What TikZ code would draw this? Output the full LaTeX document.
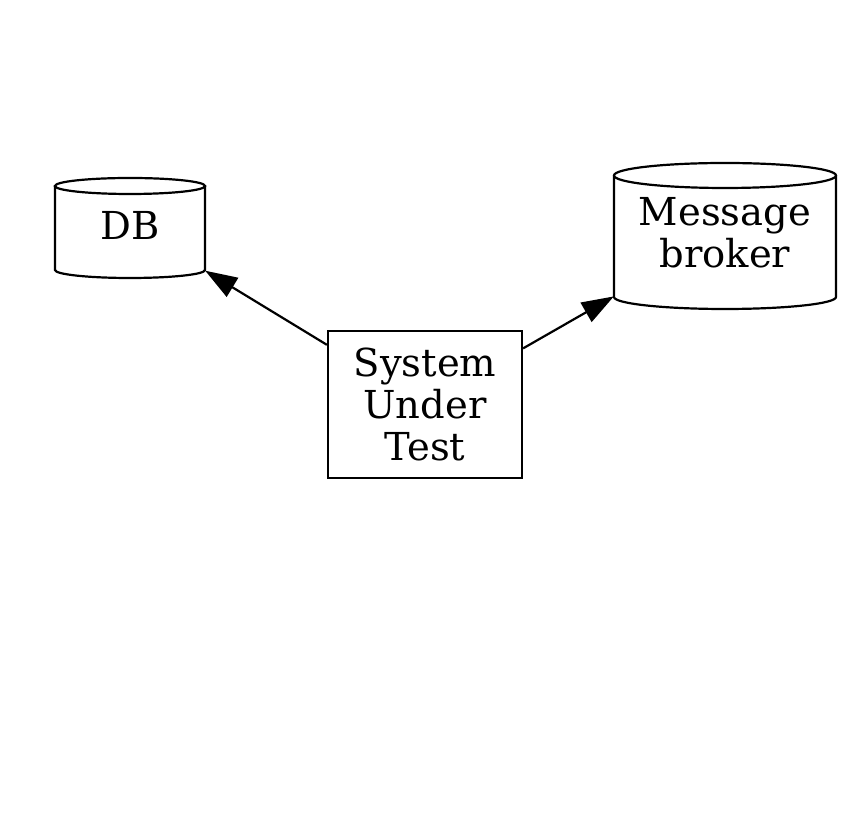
\documentclass[tikz,border=0pt]{standalone}
\usepackage{fontspec}
\setmainfont{DejaVu Serif}
\usetikzlibrary{arrows.meta}

\tikzset{
  label/.style={align=center, inner sep=0pt, font=\fontsize{38.5}{42}\selectfont},
  box/.style={label, draw, line width=2.2pt, minimum width=194pt, minimum height=147pt},
  outline/.style={line width=2.2pt},
  link/.style={line width=2.2pt, -{Triangle[length=32pt,width=22pt]}}
}

\begin{document}
\begin{tikzpicture}[x=1pt,y=1pt]
  \useasboundingbox (0,0) rectangle (848,813);

  % DB cylinder
  \draw[outline] (55,627) -- (55,543) arc[start angle=180, end angle=360, x radius=75, y radius=8] -- (205,627);
  \draw[outline] (130,627) ellipse (75 and 8);
  \node at (130,588) [label,minimum width=150pt,minimum height=106pt] (db) {DB};

  % broker cylinder
  \draw[outline] (614,637.5) -- (614,516) arc[start angle=180, end angle=360, x radius=111, y radius=12] -- (836,637.5);
  \draw[outline] (725,637.5) ellipse (111 and 12.5);
  \node at (725,580) [label,minimum width=222pt,minimum height=152pt] (broker) {Message\\broker};

  \node at (425,408.5) [box] (sut) {System\\Under\\Test};

  \draw[link] (sut) -- (db);
  \draw[link] (sut) -- (broker);
\end{tikzpicture}
\end{document}
